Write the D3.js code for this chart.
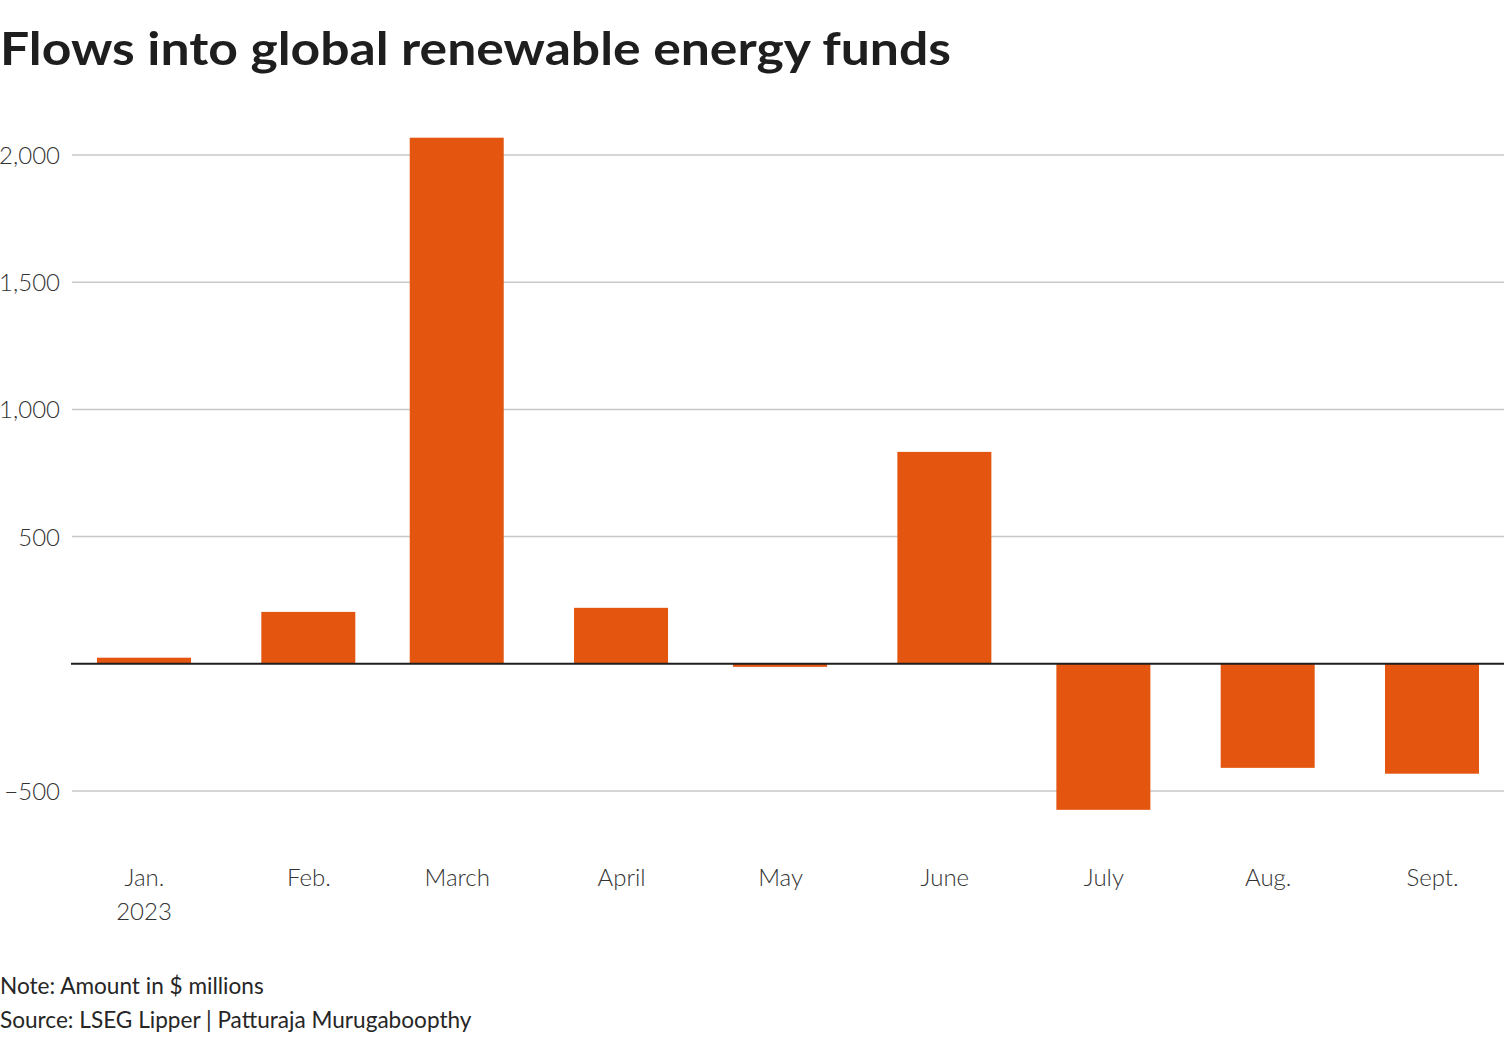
<!DOCTYPE html>
<html><head><meta charset="utf-8">
<script src="https://cdn.jsdelivr.net/npm/d3@7"></script>
<style>
html,body{margin:0;padding:0;background:#fff;}
svg{display:block;}
text{font-family:"Source Sans Pro","Lato","Noto Sans",sans-serif;}
</style></head>
<body>
<svg id="chart" width="1504" height="1040"></svg>
<script>
const months = ["2023-01-01","2023-02-01","2023-03-01","2023-04-01","2023-05-01","2023-06-01","2023-07-01","2023-08-01","2023-09-01"];
const monthLabels = ["Jan.","Feb.","March","April","May","June","July","Aug.","Sept."];
const flows = [24, 204, 2068, 220, -12, 833, -574, -409, -432];
const yTicks = [-500, 0, 500, 1000, 1500, 2000];
const title = "Flows into global renewable energy funds";
const notes = ["Note: Amount in $ millions", "Source: LSEG Lipper | Patturaja Murugaboopthy"];

const svg = d3.select("#chart");
const parse = d3.utcParse("%Y-%m-%d");
const dates = months.map(parse);

const x = d3.scaleUtc().domain([dates[0], dates[dates.length-1]]).range([144, 1432]);
const y = d3.scaleLinear().domain([-500, 2000]).range([791, 155]);
const barW = 94;

// title
const t = svg.append("text").attr("x", 0).attr("y", 65)
  .attr("font-size", 46).attr("font-weight", 700).attr("fill", "#1e1e1e").text(title);
t.attr("textLength", 951).attr("lengthAdjust", "spacingAndGlyphs");

// gridlines
const grid = svg.append("g");
grid.selectAll("line").data(yTicks.filter(d => d !== 0)).join("line")
  .attr("x1", 72).attr("x2", 1504)
  .attr("y1", d => y(d)).attr("y2", d => y(d))
  .attr("stroke", "#c8c8c8").attr("stroke-width", 1.5);

// y axis labels
const yAxis = d3.axisLeft(y).tickValues(yTicks.filter(d => d !== 0))
  .tickFormat(d => d < 0 ? "\u2212" + d3.format(",")(-d) : d3.format(",")(d))
  .tickSize(0).tickPadding(0);
const ya = svg.append("g").attr("transform", "translate(60,0)").call(yAxis);
ya.select(".domain").remove();
ya.selectAll("text").attr("font-size", 24).attr("font-weight", 300).attr("fill", "#333333")
  .attr("font-family", "\"Source Sans Pro\",\"Lato\",sans-serif").attr("dy", "0.35em");

// bars
svg.append("g").selectAll("rect").data(flows).join("rect")
  .attr("x", (d, i) => x(dates[i]) - barW / 2)
  .attr("width", barW)
  .attr("y", d => y(Math.max(0, d)))
  .attr("height", d => Math.abs(y(d) - y(0)))
  .attr("fill", "#e4560f");

// zero line
svg.append("line").attr("x1", 71).attr("x2", 1504).attr("y1", y(0)).attr("y2", y(0))
  .attr("stroke", "#1e1e1e").attr("stroke-width", 2);

// x axis labels
const xAxis = d3.axisBottom(x).tickValues(dates)
  .tickFormat((d, i) => monthLabels[i]).tickSize(0).tickPadding(0);
const xa = svg.append("g").attr("transform", "translate(0,868)").call(xAxis);
xa.select(".domain").remove();
xa.selectAll("text").attr("font-size", 24).attr("font-weight", 300).attr("fill", "#333333")
  .attr("font-family", "\"Source Sans Pro\",\"Lato\",sans-serif").attr("dy", "0.75em");
svg.append("text").attr("x", x(dates[0])).attr("y", 920).attr("text-anchor", "middle")
  .attr("font-size", 24).attr("font-weight", 300).attr("fill", "#333333").text("2023");

// notes
svg.append("g").selectAll("text").data(notes).join("text")
  .attr("x", 0).attr("y", (d, i) => 994 + i * 34)
  .attr("font-size", 22.6).attr("fill", "#262626").text(d => d);
</script>
</body></html>
